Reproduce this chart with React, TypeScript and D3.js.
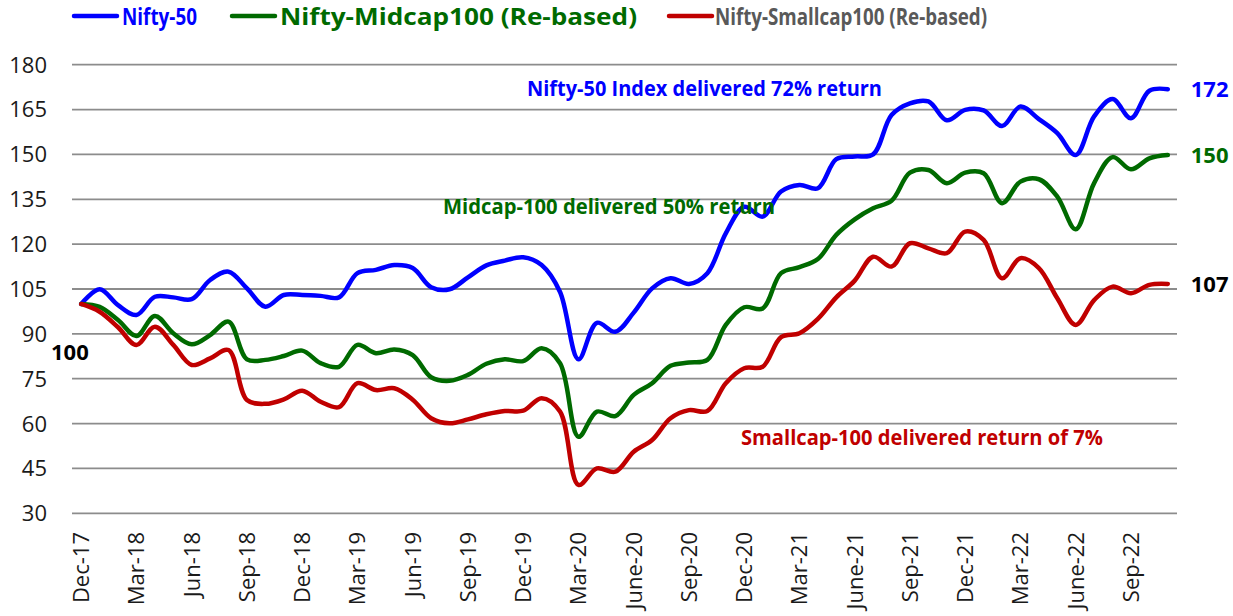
import React from "react";
import * as d3 from "d3";

// monthly points, Dec-17 .. Nov-22 (re-based to 100)
const months = [
  "Dec-17", "Jan-18", "Feb-18", "Mar-18", "Apr-18", "May-18", "Jun-18", "Jul-18", "Aug-18", "Sep-18",
  "Oct-18", "Nov-18", "Dec-18", "Jan-19", "Feb-19", "Mar-19", "Apr-19", "May-19", "Jun-19", "Jul-19",
  "Aug-19", "Sep-19", "Oct-19", "Nov-19", "Dec-19", "Jan-20", "Feb-20", "Mar-20", "Apr-20", "May-20",
  "June-20", "Jul-20", "Aug-20", "Sep-20", "Oct-20", "Nov-20", "Dec-20", "Jan-21", "Feb-21", "Mar-21",
  "Apr-21", "May-21", "June-21", "Jul-21", "Aug-21", "Sep-21", "Oct-21", "Nov-21", "Dec-21", "Jan-22",
  "Feb-22", "Mar-22", "Apr-22", "May-22", "June-22", "Jul-22", "Aug-22", "Sep-22", "Oct-22", "Nov-22",
];

const tickLabels = [
  "Dec-17", "Mar-18", "Jun-18", "Sep-18", "Dec-18", "Mar-19", "Jun-19", "Sep-19", "Dec-19", "Mar-20",
  "June-20", "Sep-20", "Dec-20", "Mar-21", "June-21", "Sep-21", "Dec-21", "Mar-22", "June-22", "Sep-22",
];

const yTicks = [30, 45, 60, 75, 90, 105, 120, 135, 150, 165, 180];

const nifty50 = [
  100, 104.9, 99.6, 96.3, 102.4, 102.2, 101.6, 108, 110.8, 105.2,
  99.1, 103, 103, 102.7, 102.2, 110.3, 111.4, 113, 112, 105.6,
  104.9, 108.9, 112.9, 114.5, 115.6, 113, 104, 81.5, 93.7, 90.7,
  97.1, 105.2, 108.6, 106.7, 110.3, 123.6, 132.5, 129.2, 137.6, 139.8,
  138.7, 148.4, 149.3, 150, 163.2, 167.1, 167.7, 161.4, 164.9, 164.7,
  159.5, 166, 161.8, 157.1, 149.8, 162.7, 168.5, 162.1, 171.3, 171.8,
];

const midcap100 = [
  100, 99, 94.6, 89.3, 96, 90.2, 86.5, 89.6, 94.1, 81.5,
  81.3, 82.6, 84.4, 80.2, 79, 86.3, 83.5, 84.8, 82.9, 75.5,
  74.3, 76.3, 80, 81.5, 80.9, 85.2, 80.2, 55.6, 64, 62.5,
  69.6, 73.5, 79.3, 80.4, 81.3, 93, 98.9, 98.5, 110.3, 112.3,
  115, 123.1, 128.3, 132, 134.5, 143.9, 144.8, 140.4, 143.9, 143.7,
  133.7, 140.9, 141.7, 135.9, 125, 140.4, 149.1, 145, 148.7, 149.8,
];

const smallcap100 = [
  100, 97.4, 92.2, 86.3, 92.4, 86.3, 79.6, 81.8, 84.6, 67.9,
  66.6, 68.1, 71, 67.3, 65.5, 73.5, 71.2, 71.8, 68, 61.8,
  60.1, 61.4, 63.1, 64.2, 64.3, 68.5, 64, 39.5, 45, 43.9,
  50.6, 54.5, 61.8, 64.5, 64.2, 73.5, 78.5, 79, 88.9, 90.2,
  95, 102.2, 107.8, 115.8, 112.5, 120.3, 118.6, 117, 124.2, 121.4,
  108.6, 115.3, 112, 101.9, 93, 101.3, 105.8, 103.6, 106.4, 106.7,
];

const BLUE = "#0000ff";
const GREEN = "#006a00";
const RED = "#c00000";
const FONT = "'Open Sans', 'Noto Sans', sans-serif";

const W = 1233;
const H = 616;

export default function App() {
  const x = d3.scalePoint<string>().domain(months).range([72, 1177]).padding(0.5);
  const y = d3.scaleLinear().domain([30, 180]).range([513.3, 64.7]);

  const line = d3
    .line<number>()
    .x((_, i) => x(months[i]) as number)
    .y((d) => y(d))
    .curve(d3.curveCatmullRom.alpha(0.5));

  const series = [
    { values: nifty50, color: BLUE },
    { values: midcap100, color: GREEN },
    { values: smallcap100, color: RED },
  ];

  const last = months[months.length - 1];

  return (
    <svg
      width={W}
      height={H}
      style={{ position: "absolute", left: 0, top: 0, background: "#fff" }}
      fontFamily={FONT}
    >
      {/* gridlines */}
      {yTicks.map((t) => (
        <g key={t}>
          <line x1={72} x2={1177} y1={y(t)} y2={y(t)} stroke="#8c8c8c" strokeWidth={1.8} />
          <text x={47} y={y(t)} dy="0.36em" textAnchor="end" fontSize={22} fill="#1a1a1a">
            {t}
          </text>
        </g>
      ))}

      {/* x labels */}
      {tickLabels.map((m) => (
        <text
          key={m}
          transform={`translate(${x(m)},532) rotate(-90)`}
          dy="0.36em"
          textAnchor="end"
          fontSize={22}
          fill="#1a1a1a"
        >
          {m}
        </text>
      ))}

      {/* series */}
      {series.map((s, i) => (
        <path
          key={i}
          d={line(s.values) || ""}
          fill="none"
          stroke={s.color}
          strokeWidth={4.5}
          strokeLinejoin="round"
          strokeLinecap="round"
        />
      ))}

      {/* legend */}
      <g fontWeight="bold" fontSize={24}>
        <line x1={74} x2={117} y1={16} y2={16} stroke={BLUE} strokeWidth={4.5} strokeLinecap="round" />
        <text x={122} y={16} dy="0.36em" fill={BLUE} textLength={75} lengthAdjust="spacingAndGlyphs">
          Nifty-50
        </text>
        <line x1={232} x2={275} y1={16} y2={16} stroke={GREEN} strokeWidth={4.5} strokeLinecap="round" />
        <text x={280} y={16} dy="0.36em" fill={GREEN} textLength={357} lengthAdjust="spacingAndGlyphs">
          Nifty-Midcap100 (Re-based)
        </text>
        <line x1={669} x2={712} y1={16} y2={16} stroke={RED} strokeWidth={4.5} strokeLinecap="round" />
        <text x={715} y={16} dy="0.36em" fill="#595959" textLength={272} lengthAdjust="spacingAndGlyphs">
          Nifty-Smallcap100 (Re-based)
        </text>
      </g>

      {/* annotations */}
      <g fontWeight="bold" fontSize={21}>
        <text x={527} y={88} dy="0.36em" fill={BLUE} textLength={355} lengthAdjust="spacingAndGlyphs">
          Nifty-50 Index delivered 72% return
        </text>
        <text x={443} y={206} dy="0.36em" fill={GREEN} textLength={332} lengthAdjust="spacingAndGlyphs">
          Midcap-100 delivered 50% return
        </text>
        <text x={741} y={437} dy="0.36em" fill={RED} textLength={362} lengthAdjust="spacingAndGlyphs">
          Smallcap-100 delivered return of 7%
        </text>
      </g>

      {/* value labels */}
      <g fontWeight="bold" fontSize={22}>
        <text x={51} y={352} dy="0.36em" fill="#000">
          {nifty50[0]}
        </text>
        <text x={(x(last) as number) + 23} y={y(nifty50[59])} dy="0.36em" fill={BLUE}>
          {Math.round(nifty50[59])}
        </text>
        <text x={(x(last) as number) + 23} y={y(midcap100[59])} dy="0.36em" fill={GREEN}>
          {Math.round(midcap100[59])}
        </text>
        <text x={(x(last) as number) + 23} y={y(smallcap100[59])} dy="0.36em" fill="#000">
          {Math.round(smallcap100[59])}
        </text>
      </g>
    </svg>
  );
}
